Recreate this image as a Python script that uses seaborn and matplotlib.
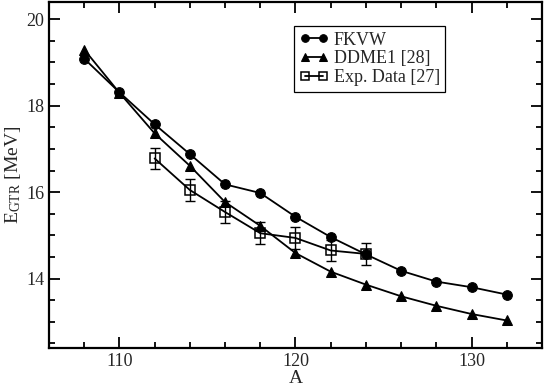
import numpy as np
import pandas as pd
import seaborn as sns
import matplotlib.pyplot as plt

# data
mass_fkvw = [108, 110, 112, 114, 116, 118, 120, 122, 124, 126, 128, 130, 132]
e_fkvw = [19.09, 18.31, 17.57, 16.88, 16.18, 15.98, 15.43, 14.96, 14.56, 14.18, 13.93, 13.80, 13.63]

mass_ddme1 = [108, 110, 112, 114, 116, 118, 120, 122, 124, 126, 128, 130, 132]
e_ddme1 = [19.30, 18.30, 17.36, 16.61, 15.77, 15.22, 14.59, 14.16, 13.86, 13.59, 13.37, 13.18, 13.03]

mass_exp = [112, 114, 116, 118, 120, 122, 124]
e_exp = [16.78, 16.05, 15.54, 15.05, 14.94, 14.65, 14.57]
err_exp = [0.25, 0.25, 0.25, 0.25, 0.25, 0.24, 0.26]

sns.set_style("ticks")
plt.rcParams['font.family'] = ['Liberation Serif', 'DejaVu Serif']
plt.rcParams['mathtext.fontset'] = 'custom'
plt.rcParams['mathtext.rm'] = 'Liberation Serif'
plt.rcParams['mathtext.it'] = 'Liberation Serif:italic'

fig = plt.figure(figsize=(5.44, 3.84), dpi=100)
ax = fig.add_axes([0.090, 0.0945, 0.9063, 0.9003])

lw = 1.3
sns.lineplot(x=mass_fkvw, y=e_fkvw, ax=ax, color='black', lw=lw, marker='o',
             markersize=7, markeredgecolor='black', label='FKVW')
sns.lineplot(x=mass_ddme1, y=e_ddme1, ax=ax, color='black', lw=lw, marker='^',
             markersize=7.5, markeredgecolor='black', label='DDME1 [28]')
sns.lineplot(x=mass_exp, y=e_exp, ax=ax, color='black', lw=lw, marker='s',
             markersize=7, markerfacecolor='none', markeredgecolor='black',
             markeredgewidth=1.1, label='Exp. Data [27]')
ax.errorbar(mass_exp, e_exp, yerr=err_exp, fmt='none', ecolor='black',
            elinewidth=1.0, capsize=3.8, capthick=1.0)

ax.set_xlim(106, 134)
ax.set_ylim(12.4, 20.4)
ax.set_xticks([110, 120, 130])
ax.set_xticks(np.arange(106, 135, 2), minor=True)
ax.set_yticks([14, 16, 18, 20])
ax.set_yticks(np.arange(12.5, 20.5, 0.5), minor=True)
ax.tick_params(which='both', direction='in', top=True, right=True,
               labelsize=13, width=1.3, color='black')
ax.tick_params(which='major', length=8)
ax.tick_params(which='minor', length=4)
for s in ax.spines.values():
    s.set_linewidth(1.6)
    s.set_color('black')

ax.set_xlabel('A', fontsize=14, labelpad=0)
ax.set_ylabel(r'E$_{\mathrm{GTR}}$ [MeV]', fontsize=14, labelpad=2)

leg = ax.legend(loc='upper left', bbox_to_anchor=(0.497, 0.93), fontsize=13,
                frameon=True, fancybox=False, edgecolor='black', framealpha=1,
                handlelength=1.6, handletextpad=0.3, borderpad=0.3,
                labelspacing=0.1, numpoints=2, borderaxespad=0)
leg.get_frame().set_linewidth(0.9)
for h in leg.legend_handles:
    h.set_markersize(5.5)

fig.savefig('out.png', dpi=100)
